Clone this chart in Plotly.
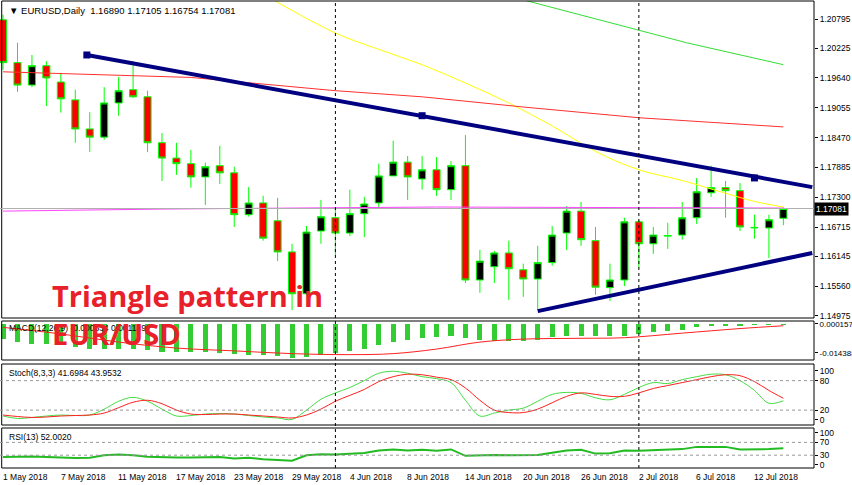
import plotly.graph_objects as go

# ---------------- data ----------------
opens = [1.2078,1.1994,1.1950,1.1988,1.1956,1.1921,1.1864,1.1848,1.1915,1.1941,1.1927,1.1837,1.1807,1.1796,1.1770,1.1792,1.1778,1.1696,1.1719,1.1684,1.1623,1.1541,1.1664,1.1690,1.1660,1.1698,1.1719,1.1772,1.1799,1.1766,1.1784,1.1745,1.1792,1.1568,1.1594,1.1621,1.1588,1.1570,1.1602,1.1660,1.1703,1.1645,1.1553,1.1568,1.1682,1.1639,1.1654,1.1656,1.1690,1.1739,1.1749,1.1743,1.1670,1.1670,1.1689]
highs = [1.2088,1.2033,1.2009,1.1997,1.1974,1.1941,1.1897,1.1946,1.1966,1.1997,1.1939,1.1856,1.1837,1.1823,1.1798,1.1831,1.1790,1.1750,1.1733,1.1729,1.1639,1.1674,1.1725,1.1711,1.1745,1.1731,1.1796,1.1841,1.1811,1.1811,1.1809,1.1801,1.1852,1.1627,1.1625,1.1645,1.1600,1.1635,1.1674,1.1713,1.1721,1.1672,1.1600,1.1690,1.1686,1.1672,1.1680,1.1721,1.1768,1.1792,1.1762,1.1758,1.1696,1.1696,1.17105]
lows = [1.1980,1.1937,1.1946,1.1909,1.1896,1.1837,1.1819,1.1843,1.1890,1.1925,1.1819,1.1762,1.1774,1.1749,1.1715,1.1756,1.1672,1.1692,1.1645,1.1605,1.1509,1.1539,1.1639,1.1617,1.1654,1.1652,1.1709,1.1772,1.1725,1.1745,1.1733,1.1725,1.1562,1.1543,1.1562,1.1529,1.1535,1.1509,1.1596,1.1627,1.1635,1.1539,1.1527,1.1556,1.1592,1.1619,1.1629,1.1647,1.1678,1.1731,1.1690,1.1664,1.1649,1.1611,1.16754]
closes = [1.1994,1.1950,1.1988,1.1964,1.1923,1.1864,1.1848,1.1915,1.1939,1.1927,1.1837,1.1807,1.1796,1.1770,1.1790,1.1778,1.1696,1.1719,1.1650,1.1623,1.1541,1.1662,1.1692,1.1660,1.1698,1.1717,1.1772,1.1799,1.1770,1.1784,1.1745,1.1792,1.1568,1.1605,1.1621,1.1590,1.1570,1.1602,1.1656,1.1703,1.1647,1.1554,1.1568,1.1682,1.1639,1.1656,1.1655,1.1690,1.1741,1.1749,1.1743,1.1672,1.1671,1.1686,1.17081]
bars = list(range(len(opens)))

date_idx = [0,4,8,12,16,20,24,28,32,36,40,44,48,52]
date_labels = ["1 May 2018","7 May 2018","11 May 2018","17 May 2018","23 May 2018","29 May 2018",
               "4 Jun 2018","8 Jun 2018","14 Jun 2018","20 Jun 2018","26 Jun 2018","2 Jul 2018",
               "6 Jul 2018","12 Jul 2018"]
price_ticks = [1.20795,1.20225,1.19640,1.19055,1.18470,1.17885,1.17300,1.16715,1.16145,1.15560,1.14975]
last_price = 1.17081

ma_yellow_x = [18.7,23,26,29,32,35,38,41,44,47,50,52,54]
ma_yellow_y = [1.2117,1.2052,1.2020,1.1990,1.1954,1.1915,1.1870,1.1820,1.1784,1.1763,1.1738,1.1722,1.1711]
ma_red_x = [0,13,23,29,36,44,54]
ma_red_y = [1.1976,1.1965,1.1939,1.1927,1.1907,1.1886,1.1868]
ma_green_x = [36,44,47.3,54]
ma_green_y = [1.2117,1.2058,1.2033,1.1990]
ma_mag_x = [0,5,11,20,30,54]
ma_mag_y = [1.1703,1.1705,1.1707,1.1709,1.1711,1.1709]

upper_tl_x = [5.8,56]
upper_tl_y = [1.2009,1.1750]
upper_pts_x = [5.8,29,52]
upper_pts_y = [1.2009,1.1890,1.1768]
lower_tl_x = [37,56]
lower_tl_y = [1.1507,1.1621]

macd_hist = [-0.0074,-0.0090,-0.0098,-0.0098,-0.0107,-0.0115,-0.0123,-0.0123,-0.0123,-0.0123,-0.0131,-0.0139,-0.0139,-0.0139,-0.0139,-0.0143,-0.0148,-0.0153,-0.0156,-0.0159,-0.0169,-0.0164,-0.0156,-0.0143,-0.0136,-0.0123,-0.0107,-0.0090,-0.0077,-0.0071,-0.0066,-0.0057,-0.0071,-0.0077,-0.0082,-0.0085,-0.0082,-0.0077,-0.0066,-0.0057,-0.0057,-0.0061,-0.0061,-0.0057,-0.0049,-0.0041,-0.0033,-0.0028,-0.0016,-0.0008,-0.0005,-0.0005,-0.0003,-0.0002,-0.0002]
macd_sig_x = [0,4,8,12,16,20,24,27,30,33,36,40,43,47,51,54]
macd_sig_y = [-0.0016,-0.0049,-0.0090,-0.0120,-0.0134,-0.0148,-0.0153,-0.0148,-0.0125,-0.0090,-0.0075,-0.0071,-0.0068,-0.0045,-0.0022,-0.0008]

stoch_k = [8,3,5,8,10,9,10,22,38,46,38,22,8,9,12,13,12,9,6,4,1,20,42,55,66,80,95,99,95,88,84,76,40,8,14,20,24,38,52,56,54,45,41,52,66,76,74,82,88,93,92,80,60,34,39]
stoch_d = [10,7,5,6,8,9,10,14,25,36,40,33,20,12,11,12,12,10,8,6,4,10,22,38,50,62,78,88,93,92,87,82,65,40,20,15,15,22,35,48,55,52,48,48,55,64,70,76,82,88,92,90,78,60,44]
rsi = [24,25,26,24,22,21,22,30,32,30,25,23,23,23,24,24,20,22,17,14,13,30,33,32,35,37,45,48,45,47,44,48,28,30,31,30,30,31,38,45,47,35,36,45,44,46,46,49,56,57,56,48,48,49,52]

# ---------------- figure ----------------
W, H = 852, 485
xr = [-0.21, 56.12]
xd = [0, 814 / W]
def dom(top, bot):
    return [1 - bot / H, 1 - top / H]

fig = go.Figure()
fig.add_trace(go.Candlestick(x=bars, open=opens, high=highs, low=lows, close=closes,
    increasing=dict(line=dict(color="#00ff00", width=1), fillcolor="black"),
    decreasing=dict(line=dict(color="#00ff00", width=1), fillcolor="#ff0000"),
    whiskerwidth=0, xaxis="x", yaxis="y", hoverinfo="skip"))
fig.add_trace(go.Scatter(x=ma_yellow_x, y=ma_yellow_y, mode="lines", line=dict(color="#ffff00", width=1), line_shape="spline"))
fig.add_trace(go.Scatter(x=ma_red_x, y=ma_red_y, mode="lines", line=dict(color="#ff3030", width=1)))
fig.add_trace(go.Scatter(x=ma_green_x, y=ma_green_y, mode="lines", line=dict(color="#33dd33", width=1)))
fig.add_trace(go.Scatter(x=ma_mag_x, y=ma_mag_y, mode="lines", line=dict(color="#ff44ff", width=1)))
fig.add_trace(go.Scatter(x=upper_tl_x, y=upper_tl_y, mode="lines", line=dict(color="#000080", width=4)))
fig.add_trace(go.Scatter(x=upper_pts_x, y=upper_pts_y, mode="markers", marker=dict(color="#000080", size=7, symbol="square")))
fig.add_trace(go.Scatter(x=lower_tl_x, y=lower_tl_y, mode="lines", line=dict(color="#000080", width=4)))

fig.add_trace(go.Bar(x=bars, y=macd_hist, marker=dict(color="#33cc33", line=dict(width=0)), width=0.35, xaxis="x", yaxis="y2"))
fig.add_trace(go.Scatter(x=macd_sig_x, y=macd_sig_y, mode="lines", line=dict(color="#ff2020", width=1), line_shape="spline", xaxis="x", yaxis="y2"))

fig.add_trace(go.Scatter(x=bars, y=stoch_k, mode="lines", line=dict(color="#44dd44", width=1), line_shape="spline", xaxis="x", yaxis="y3"))
fig.add_trace(go.Scatter(x=bars, y=stoch_d, mode="lines", line=dict(color="#ff2020", width=1), line_shape="spline", xaxis="x", yaxis="y3"))

fig.add_trace(go.Scatter(x=bars, y=rsi, mode="lines", line=dict(color="#22bb22", width=2), xaxis="x", yaxis="y4"))

tickfont = dict(family="Liberation Sans", size=8.5, color="black")
yax = dict(side="right", showgrid=False, zeroline=False, ticks="outside", ticklen=3, tickcolor="black",
           tickfont=tickfont, showline=False, automargin=False, fixedrange=True)
fig.update_layout(
    width=W, height=H, margin=dict(l=0, r=0, t=0, b=0),
    paper_bgcolor="white", plot_bgcolor="white", showlegend=False, bargap=0,
    xaxis=dict(domain=xd, range=xr, showticklabels=False, showgrid=False, zeroline=False,
               rangeslider=dict(visible=False), anchor="y"),
    yaxis=dict(domain=dom(1, 318), range=[1.14935, 1.21148], tickvals=price_ticks,
               ticktext=[f"{v:.5f}" for v in price_ticks], **yax),
    yaxis2=dict(domain=dom(321, 360), range=[-0.0180, 0.0016], tickvals=[0.000157, -0.014388],
                ticktext=["0.000157", "-0.014388"], **yax),
    yaxis3=dict(domain=dom(364, 425), range=[-10.3, 113.8], tickvals=[0, 20, 80, 100], **yax),
    yaxis4=dict(domain=dom(428, 468), range=[-10, 115], tickvals=[0, 30, 70, 100], **yax),
)
fig.update_layout(yaxis2_tickfont_size=8)

shapes = []
for top, bot in [(1, 318), (321, 360), (364, 425), (428, 468)]:
    d = dom(top, bot)
    shapes.append(dict(type="rect", xref="paper", yref="paper", x0=0.002, x1=xd[1], y0=d[0], y1=d[1],
                       line=dict(color="black", width=1)))
for yref, lv in [("y3", 20), ("y3", 80), ("y4", 30), ("y4", 70)]:
    shapes.append(dict(type="line", xref="x", yref=yref, x0=xr[0], x1=xr[1], y0=lv, y1=lv,
                       line=dict(color="#999999", width=1, dash="dot")))
shapes.append(dict(type="line", xref="x", yref="y", x0=xr[0], x1=xr[1], y0=last_price, y1=last_price,
                   line=dict(color="#b0b0b0", width=1)))
for vx in [23, 44]:
    shapes.append(dict(type="line", xref="x", yref="paper", x0=vx, x1=vx, y0=dom(428, 468)[0], y1=0.998,
                       line=dict(color="black", width=1, dash="dot")))
fig.update_layout(shapes=shapes)

ann = []
for i, lab in zip(date_idx, date_labels):
    ann.append(dict(x=i - 0.15, y=1 - 477 / H, xref="x", yref="paper", text=lab, showarrow=False,
                    xanchor="left", yanchor="middle", font=tickfont))
ann.append(dict(x=0.008, y=1 - 10 / H, xref="paper", yref="paper", xanchor="left", yanchor="middle", showarrow=False,
                text="▼ EURUSD,Daily  1.16890 1.17105 1.16754 1.17081", font=dict(family="Liberation Sans", size=9.5, color="black")))
ann.append(dict(x=xd[1], y=last_price, xref="paper", yref="y", xanchor="left", yanchor="middle", showarrow=False,
                text="1.17081", bgcolor="black", font=dict(family="Liberation Sans", size=8.5, color="white")))
ann.append(dict(x=0.008, y=1 - 328 / H, xref="paper", yref="paper", xanchor="left", yanchor="middle", showarrow=False,
                text="MACD(12,26,9) -0.000534 0.001149", font=tickfont))
ann.append(dict(x=0.008, y=1 - 373 / H, xref="paper", yref="paper", xanchor="left", yanchor="middle", showarrow=False,
                text="Stoch(8,3,3) 41.6984 43.9532", font=tickfont))
ann.append(dict(x=0.008, y=1 - 437 / H, xref="paper", yref="paper", xanchor="left", yanchor="middle", showarrow=False,
                text="RSI(13) 52.0020", font=tickfont))
big = dict(family="Open Sans", size=29, color="#e8202a")
ann.append(dict(x=50 / W, y=1 - 295 / H, xref="paper", yref="paper", xanchor="left", yanchor="middle", showarrow=False,
                text="<b>Triangle pattern in</b>", font=big))
ann.append(dict(x=50 / W, y=1 - 333 / H, xref="paper", yref="paper", xanchor="left", yanchor="middle", showarrow=False,
                text="<b>EUR/USD</b>", font=big))
fig.update_layout(annotations=ann)

fig.write_html("out.html", config={"displayModeBar": False},
               post_script="document.body.style.margin='0';document.body.style.overflow='hidden';")
